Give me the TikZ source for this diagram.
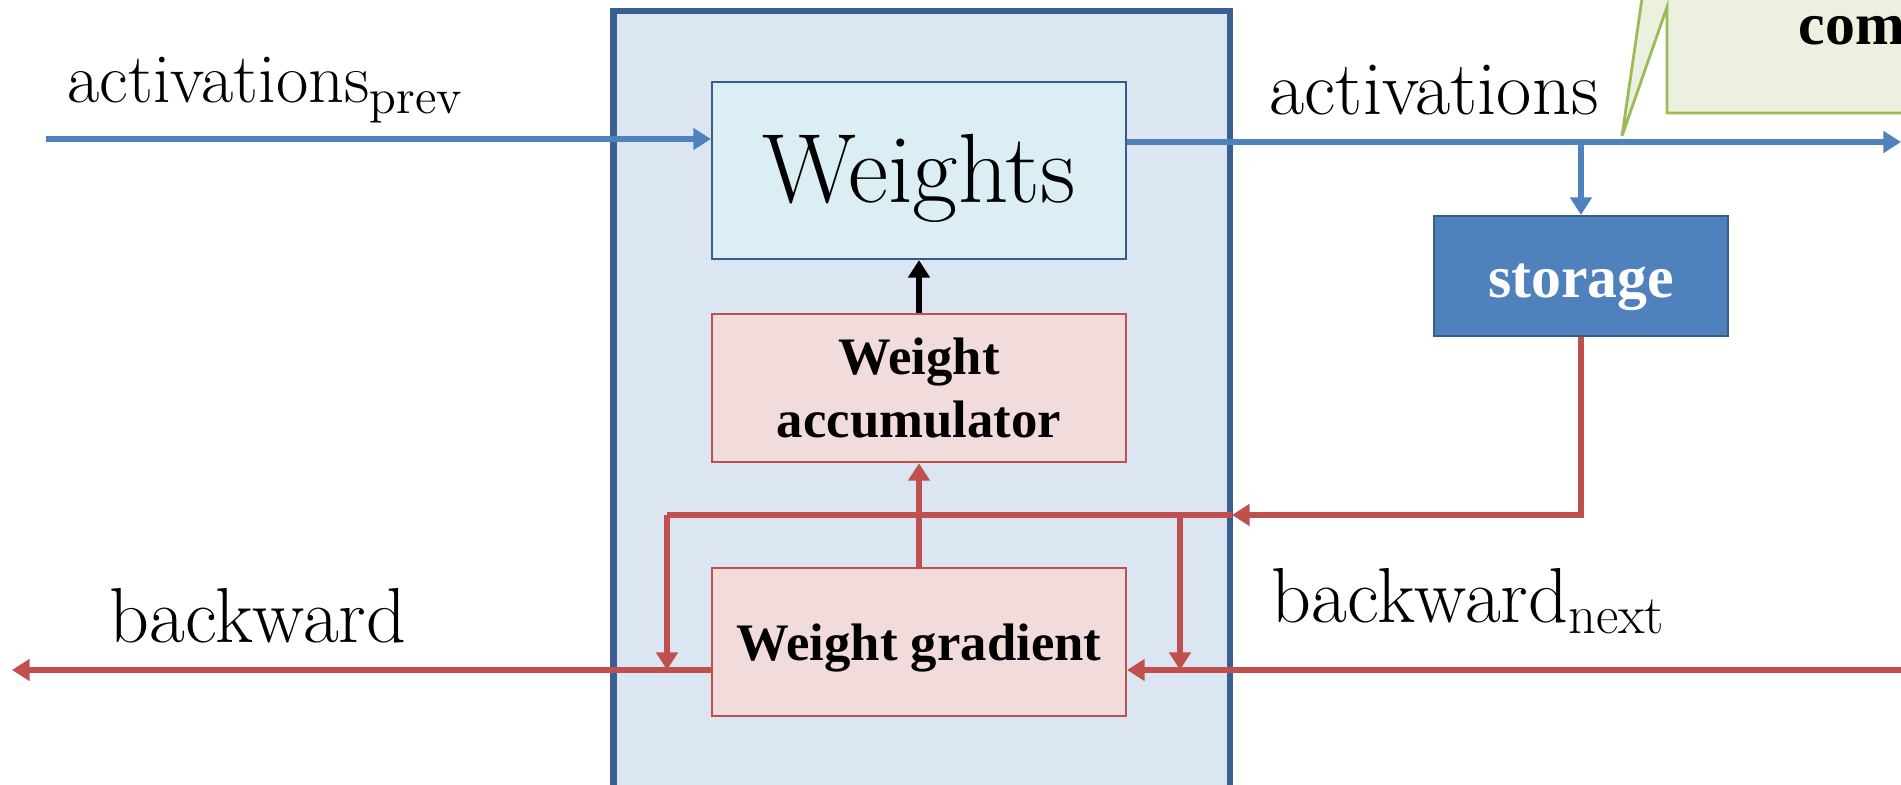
\documentclass[tikz,border=0pt]{standalone}
\usepackage{fontspec}
\newfontfamily\boxfont{Liberation Serif}
\usetikzlibrary{arrows.meta,positioning}

\definecolor{layerfill}{HTML}{DCE6F2}
\definecolor{layerdraw}{HTML}{3A5F92}
\definecolor{wfill}{HTML}{DAEEF3}
\definecolor{redfill}{HTML}{F2DCDB}
\definecolor{reddraw}{HTML}{C0504D}
\definecolor{bluedraw}{HTML}{4F81BD}
\definecolor{storedraw}{HTML}{385D8A}
\definecolor{notefill}{HTML}{EBF1DE}
\definecolor{notedraw}{HTML}{9BBB59}

\begin{document}
\begin{tikzpicture}[>={Triangle[length=5pt,width=6pt]},
    wbox/.style={draw=storedraw,fill=wfill,line width=0.6pt,minimum width=4.14cm,
                 minimum height=1.77cm,text height=18pt,text depth=0pt,
                 font=\fontsize{28}{32}\selectfont},
    gbox/.style={draw=reddraw,fill=redfill,line width=0.6pt,minimum width=4.14cm,
                 minimum height=1.48cm,align=center,
                 font=\boxfont\bfseries\fontsize{15}{18}\selectfont},
    sbox/.style={draw=storedraw,fill=bluedraw,line width=0.6pt,text=white,
                 minimum width=2.94cm,minimum height=1.2cm,text height=12pt,text depth=0pt,
                 font=\boxfont\bfseries\fontsize{17}{20}\selectfont},
    lbl/.style={inner sep=0pt,anchor=base west,font=\fontsize{22.2}{27}\selectfont},
    fwd/.style={draw=bluedraw,line width=1.8pt,->},
    bwd/.style={draw=reddraw,line width=1.8pt,->}]
  \useasboundingbox (0,0) rectangle (19.01,7.85);
  \clip (0,0) rectangle (19.01,7.85);

  % layer
  \filldraw[fill=layerfill,draw=layerdraw,line width=1.8pt] (6.135,-0.5) rectangle (12.30,7.74);

  \node[wbox] (wts) at (9.19,6.145) {Weights};
  \node[gbox] (acc) [below=0.53cm of wts] {Weight\\accumulator};
  \node[gbox,text depth=0pt] (grad) [below=1.04cm of acc] {Weight gradient};
  \node[sbox] (store) at (15.81,5.09) {storage};

  \coordinate (previn) at (0.46,6.46);
  \coordinate (actout) at (19.01,6.43);
  \coordinate (join) at (12.32,2.70);
  \coordinate (leftdrop) at (6.67,2.70);
  \coordinate (rightdrop) at (11.80,2.70);
  \coordinate (nextin) at (19.01,1.15);
  \coordinate (backout) at (0.12,1.15);

  % forward pass
  \draw[fwd] (previn) -- (previn -| wts.west);
  \draw[fwd] (actout -| wts.east) -- (actout);
  \draw[fwd] (store.north |- actout) -- (store.north);

  % backward pass
  \draw[bwd] (store.south) |- (join);
  \draw[bwd,-] (join) -- (leftdrop);
  \draw[bwd] (leftdrop) -- (leftdrop |- backout);
  \draw[bwd] (rightdrop) -- (rightdrop |- nextin);
  \draw[bwd] (nextin) -- (nextin -| grad.east);
  \draw[bwd] (backout -| grad.west) -- (backout);
  \draw[bwd] (grad.north) -- (acc.south);
  \draw[->,line width=1.8pt] (acc.north) -- (wts.south);

  \node[lbl,font=\fontsize{20}{24}\selectfont] (prevlbl) at (0.67,6.82) {activations$_\mathrm{prev}$};
  \node[lbl,font=\fontsize{21.8}{26}\selectfont] (actlbl) at (12.69,6.70) {activations};
  \node[lbl] (backlbl) at (1.09,1.42) {backward};
  \node[lbl] (nextlbl) at (12.71,1.62) {backward$_\mathrm{next}$};

  % note
  \filldraw[fill=notefill,draw=notedraw,line width=0.8pt]
    (16.44,8.0) -- (16.22,6.49) -- (16.67,7.78) -- (16.67,6.72) -- (19.3,6.72) -- (19.3,8.0);
  \node[inner sep=0pt,anchor=base west,font=\boxfont\bfseries\fontsize{17}{20}\selectfont]
    (note) at (17.98,7.40) {com};
\end{tikzpicture}
\end{document}
